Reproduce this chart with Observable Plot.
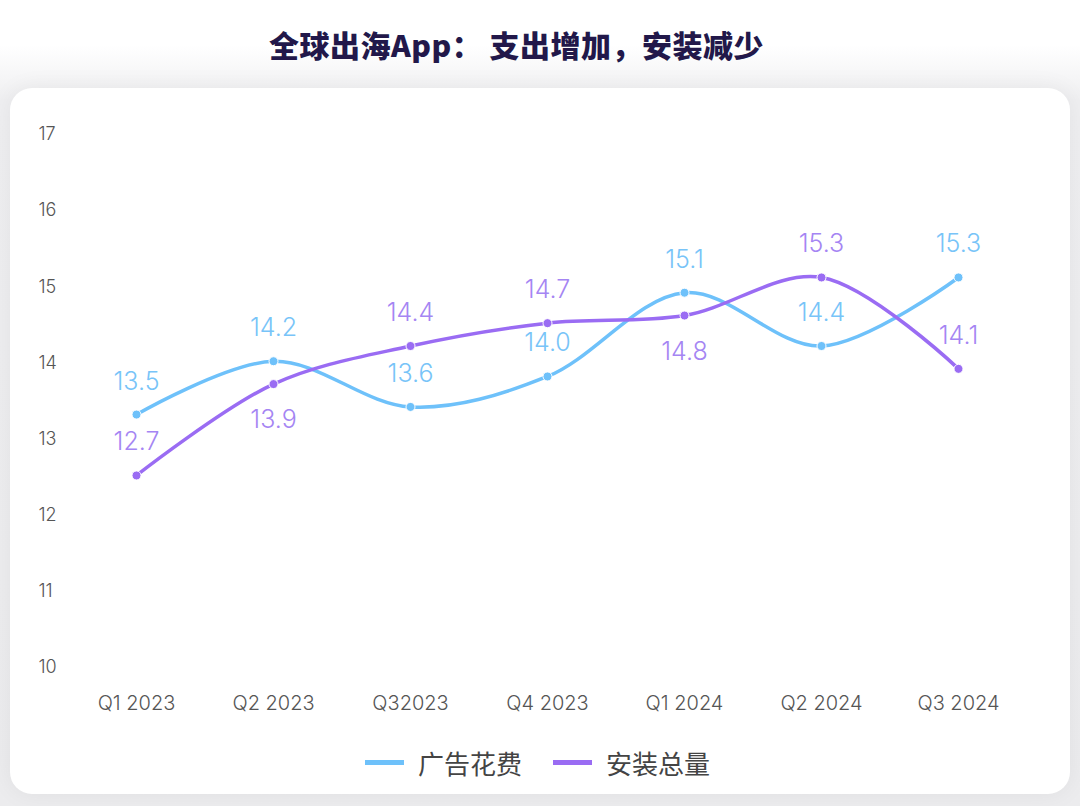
<!DOCTYPE html>
<html>
<head>
<meta charset="utf-8">
<script src="https://cdn.jsdelivr.net/npm/d3@7"></script>
<script src="https://cdn.jsdelivr.net/npm/@observablehq/plot@0.6"></script>
<style>
  html, body { margin: 0; padding: 0; }
  body {
    width: 1080px; height: 806px; position: relative; overflow: hidden;
    background: linear-gradient(#ffffff 0px, #ffffff 45px, #efeff1 100px, #ececee 806px);
    font-family: Inter, "Noto Sans", sans-serif;
  }
  #title {
    position: absolute; left: 0; top: 22px; width: 1033px; text-align: center;
    font-family: "Noto Sans CJK SC", sans-serif; font-weight: 900; font-size: 30px;
    color: #22184a; line-height: 44px; letter-spacing: 0.5px;
  }
  #card {
    position: absolute; left: 10px; top: 88px; width: 1060px; height: 706px;
    background: #fff; border-radius: 22px;
    box-shadow: 0 0 24px rgba(0,0,0,0.06);
  }
  #chart { position: absolute; left: 0; top: 88px; }
  #legend {
    position: absolute; left: 0; top: 742px; width: 1080px; height: 40px;
    font-family: "Noto Sans CJK SC", sans-serif; font-size: 26px; color: #444;
  }
  .item { position: absolute; top: 0; height: 40px; display: flex; align-items: center; }
  .sw { width: 39px; height: 5px; margin-right: 14px; }
</style>
</head>
<body>
<div id="title">全球出海App： 支出增加，安装减少</div>
<div id="card"></div>
<div id="chart"></div>
<div id="legend"></div>
<script>
// ---- data ----
const quarters = ["Q1 2023", "Q2 2023", "Q32023", "Q4 2023", "Q1 2024", "Q2 2024", "Q3 2024"];
const adSpend  = [13.5, 14.2, 13.6, 14.0, 15.1, 14.4, 15.3];   // 广告花费
const installs = [12.7, 13.9, 14.4, 14.7, 14.8, 15.3, 14.1];   // 安装总量
const seriesNames = ["广告花费", "安装总量"];
const yTicks = [10, 11, 12, 13, 14, 15, 16, 17];

const colors = ["#6ec1fa", "#9a6cf3"];
const labelColors = ["#78c4f8", "#a585f3"];

const rows = [];
quarters.forEach((q, i) => {
  rows.push({quarter: q, value: adSpend[i], series: seriesNames[0], below: false});
  const below = installs[i] < adSpend[i] && adSpend[i] - installs[i] < 0.5;
  rows.push({quarter: q, value: installs[i], series: seriesNames[1], below});
});
const blue = rows.filter(d => d.series === seriesNames[0]);
const purple = rows.filter(d => d.series === seriesNames[1]);

const labelFont = {fontFamily: "Inter, sans-serif", fontWeight: 300, fontSize: 25};

const chart = Plot.plot({
  width: 1080,
  height: 640,
  marginLeft: 135,
  marginRight: 122,
  marginTop: 59.5,
  marginBottom: 47.4,
  style: {background: "transparent", overflow: "visible"},
  x: {type: "point", domain: quarters, padding: 0, axis: null},
  y: {domain: [10, 17], axis: null},
  marks: [
    Plot.axisX({tickSize: 0, tickPadding: 15, fontSize: 20, fontFamily: "Inter, sans-serif", fontWeight: 300, color: "#555", label: null}),
    Plot.text(yTicks, {y: d => d, text: d => String(d), frameAnchor: "left", dx: -97, dy: -13.5,
      textAnchor: "start", fill: "#555", fontSize: 18, fontFamily: "Inter, sans-serif", fontWeight: 300}),
    Plot.line(blue, {x: "quarter", y: "value", stroke: colors[0], strokeWidth: 3.5, curve: "catmull-rom"}),
    Plot.line(purple, {x: "quarter", y: "value", stroke: colors[1], strokeWidth: 3.5, curve: "catmull-rom"}),
    Plot.dot(blue, {x: "quarter", y: "value", fill: colors[0], r: 4.5, stroke: "white", strokeWidth: 1}),
    Plot.dot(purple, {x: "quarter", y: "value", fill: colors[1], r: 4.5, stroke: "white", strokeWidth: 1}),
    Plot.text(blue, {x: "quarter", y: "value", text: d => d.value.toFixed(1), dy: -33, fill: labelColors[0], ...labelFont}),
    Plot.text(purple, {x: "quarter", y: "value", text: d => d.value.toFixed(1),
      fill: labelColors[1], ...labelFont, filter: d => !d.below, dy: -33}),
    Plot.text(purple, {x: "quarter", y: "value", text: d => d.value.toFixed(1),
      fill: labelColors[1], ...labelFont, filter: d => d.below, dy: 36})
  ]
});
document.getElementById("chart").appendChild(chart);

// legend
const legend = document.getElementById("legend");
const lefts = [365, 553];
seriesNames.forEach((name, i) => {
  const item = document.createElement("div");
  item.className = "item";
  item.style.left = lefts[i] + "px";
  item.innerHTML = `<div class="sw" style="background:${colors[i]}"></div><span>${name}</span>`;
  legend.appendChild(item);
});
</script>
</body>
</html>
